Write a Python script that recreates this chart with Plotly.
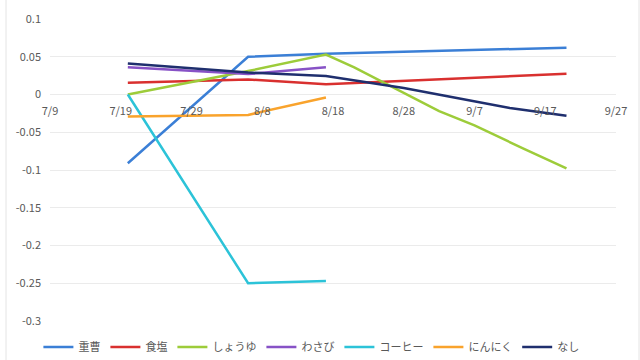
import plotly.graph_objects as go

# ---- data ----
names = ["重曹", "食塩", "しょうゆ", "わさび", "コーヒー", "にんにく", "なし"]
colors = ["#3B7FD6", "#D9302F", "#9DCC3A", "#8752C6", "#2CC3D8", "#F9A32C", "#1F2F6E"]

d4 = ["2021-07-20", "2021-08-06", "2021-08-17", "2021-09-20"]
d3 = ["2021-07-20", "2021-08-06", "2021-08-17"]
d_shoyu = ["2021-07-20", "2021-08-06", "2021-08-17", "2021-08-21", "2021-09-02",
           "2021-09-07", "2021-09-14", "2021-09-20"]
d_nashi = ["2021-07-20", "2021-08-06", "2021-08-17", "2021-08-28", "2021-09-03",
           "2021-09-12", "2021-09-20"]

v_jusou = [-0.091, 0.050, 0.054, 0.062]
v_shokuen = [0.0155, 0.020, 0.0135, 0.0275]
v_shoyu = [0.0, 0.031, 0.053, 0.036, -0.022, -0.041, -0.072, -0.098]
v_wasabi = [0.036, 0.027, 0.036]
v_coffee = [0.0, -0.250, -0.247]
v_ninniku = [-0.029, -0.027, -0.004]
v_nashi = [0.041, 0.029, 0.0245, 0.0085, -0.002, -0.018, -0.028]

series = [
    (d4, v_jusou), (d4, v_shokuen), (d_shoyu, v_shoyu), (d3, v_wasabi),
    (d3, v_coffee), (d3, v_ninniku), (d_nashi, v_nashi),
]

yticks = [0.1, 0.05, 0, -0.05, -0.1, -0.15, -0.2, -0.25, -0.3]
yticktext = ["0.1", "0.05", "0", "-0.05", "-0.1", "-0.15", "-0.2", "-0.25", "-0.3"]

font_family = "Noto Sans CJK JP"
txt = "#595959"

fig = go.Figure()
for name, color, (xs, ys) in zip(names, colors, series):
    fig.add_trace(go.Scatter(x=xs, y=ys, mode="lines", name=name,
                             line=dict(color=color, width=2.5)))

fig.update_layout(
    width=640, height=360,
    margin=dict(l=50, r=24, t=19, b=39, autoexpand=False),
    paper_bgcolor="white", plot_bgcolor="white",
    font=dict(family=font_family, size=11, color=txt),
    showlegend=True,
    legend=dict(orientation="h", xref="container", yref="container",
                x=0.06, y=0.036, xanchor="left", yanchor="middle",
                font=dict(size=11, color=txt), itemwidth=30,
                bgcolor="rgba(0,0,0,0)"),
    xaxis=dict(
        type="date", range=["2021-07-09", "2021-09-27"],
        tick0="2021-07-09", dtick=10 * 86400000, tickformat="%-m/%-d",
        anchor="free", position=0.75,
        showgrid=False, zeroline=False, showline=False,
        ticks="outside", ticklen=6, tickcolor="rgba(0,0,0,0)",
        tickfont=dict(size=11, color=txt),
    ),
    yaxis=dict(
        range=[-0.3, 0.1], tickvals=yticks, ticktext=yticktext,
        showgrid=True, gridcolor="#EBEBEB", gridwidth=1,
        zeroline=False, showline=False,
        ticks="", ticklabelstandoff=8,
        tickfont=dict(size=11, color=txt),
    ),
    shapes=[
        dict(type="line", xref="paper", yref="paper",
             x0=(6 - 50) / 566, x1=(6 - 50) / 566, y0=-39 / 302, y1=1 + 19 / 302,
             line=dict(color="#E4E4E4", width=1)),
        dict(type="line", xref="paper", yref="paper",
             x0=(639 - 50) / 566, x1=(639 - 50) / 566, y0=-39 / 302, y1=1 + 19 / 302,
             line=dict(color="#E4E4E4", width=1)),
    ],
)

fig.write_html("out.html")
